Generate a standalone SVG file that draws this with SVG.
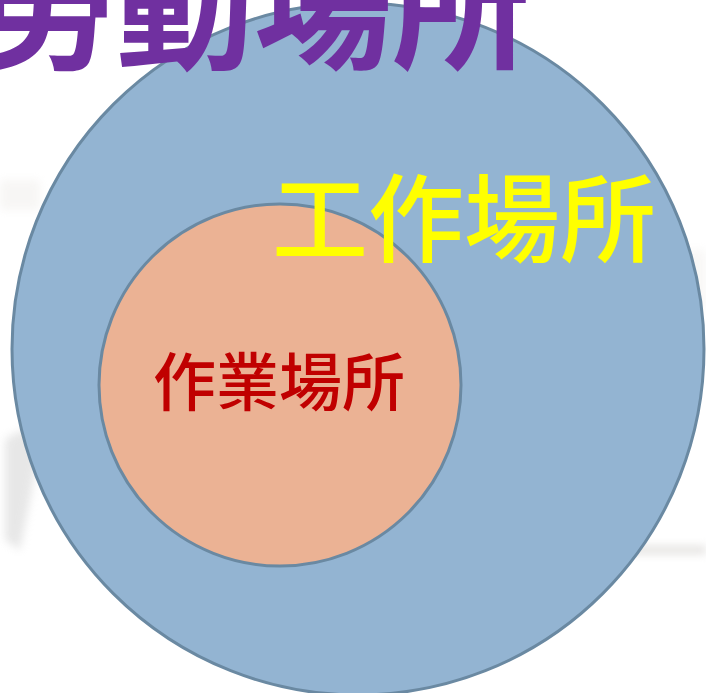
<svg xmlns="http://www.w3.org/2000/svg" width="706" height="693" viewBox="0 0 706 693">
<defs>
<style>
.ring{stroke:#6A89A2;stroke-width:3}
.t{font-family:"Noto Sans CJK TC","Noto Sans CJK SC",sans-serif}
</style>
<filter id="blur" x="-50%" y="-50%" width="200%" height="200%"><feGaussianBlur stdDeviation="4"/></filter>
</defs>
<rect width="706" height="693" fill="#ffffff"/>
<g id="background" filter="url(#blur)" opacity="0.4">
<rect x="0" y="180" width="40" height="30" fill="#ece9e5"/>
<rect x="660" y="250" width="46" height="60" fill="#efece9"/>
<path d="M5 440 Q30 420 40 445 L30 500 L20 550 L5 540 Z" fill="#c4c4c4"/>
<rect x="630" y="546" width="76" height="8" fill="#bdb8b3"/>
</g>
<g id="labor-place">
<circle class="ring" cx="358" cy="349" r="346" fill="#93B4D2"/>
</g>
<g id="work-place">
<circle class="ring" cx="280" cy="385" r="181" fill="#EBB294"/>
</g>
<g id="labels">
<text class="t" x="-22" y="58" font-size="138" font-weight="bold" fill="#7030A0">勞動場所</text>
<text class="t" x="272" y="254" font-size="96" font-weight="500" fill="#FFFF00">工作場所</text>
<text class="t" x="153" y="405" font-size="63" font-weight="500" fill="#C00000">作業場所</text>
</g>
</svg>
